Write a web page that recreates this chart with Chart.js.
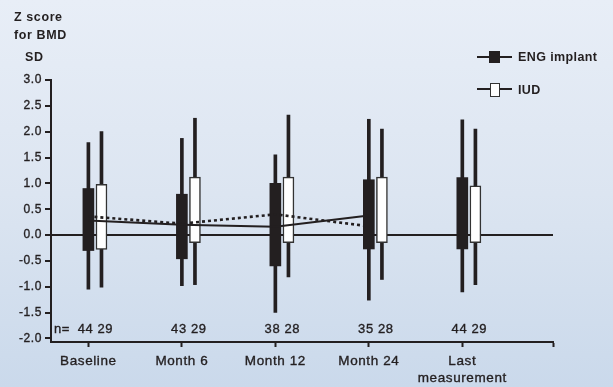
<!DOCTYPE html>
<html>
<head>
<meta charset="utf-8">
<script src="https://cdn.jsdelivr.net/npm/chart.js@4.4.1/dist/chart.umd.min.js"></script>
<style>
  html, body { margin: 0; padding: 0; }
  body {
    width: 613px; height: 387px; overflow: hidden; position: relative;
    background: linear-gradient(180deg, #e8eef7 0%, #dce5f1 50%, #cad9eb 100%);
    font-family: "Liberation Sans", Arial, sans-serif; color: #231f20;
  }
  #wrap { position: absolute; left: 0; top: 0; width: 613px; height: 387px; }
  .t { position: absolute; font-weight: bold; font-size: 12.5px; letter-spacing: 0.6px; line-height: 14px; white-space: nowrap; }
  .leg { position: absolute; }
  .leg .ln { position: absolute; height: 2px; background: #231f20; }
  .leg .bx { position: absolute; box-sizing: border-box; }
</style>
</head>
<body>
<div id="wrap"><canvas id="c" width="613" height="387"></canvas></div>

<div class="t" style="left:14px; top:10px;">Z score</div>
<div class="t" style="left:14px; top:28px;">for BMD</div>
<div class="t" style="left:25px; top:50px;">SD</div>

<div class="leg">
  <div class="ln" style="left:477px; top:56px; width:35px;"></div>
  <div class="bx" style="left:489px; top:51px; width:11px; height:12px; background:#231f20;"></div>
  <div class="t" style="left:518px; top:50px; letter-spacing:0.4px;">ENG implant</div>
  <div class="ln" style="left:477px; top:88px; width:35px;"></div>
  <div class="bx" style="left:490px; top:83px; width:10px; height:14px; background:#fff; border:1.5px solid #333;"></div>
  <div class="t" style="left:518px; top:83px; letter-spacing:0.4px;">IUD</div>
</div>

<script>
// ---- data ----
const CATEGORIES = ['Baseline', 'Month 6', 'Month 12', 'Month 24', ['Last', 'measurement']];
const Y_TICKS = [-2.0, -1.5, -1.0, -0.5, 0.0, 0.5, 1.0, 1.5, 2.0, 2.5, 3.0];

const ENG_MIN  = [-1.05, -0.98, -1.50, -1.26, -1.10];
const ENG_LOW  = [-0.30, -0.46, -0.60, -0.27, -0.27];
const ENG_HIGH = [ 0.90,  0.79,  1.00,  1.07,  1.11];
const ENG_MAX  = [ 1.79,  1.87,  1.55,  2.24,  2.23];
const ENG_MEAN = [ 0.28,  0.20,  0.16,  0.38];

const IUD_MIN  = [-1.01, -0.96, -0.81, -0.86, -0.96];
const IUD_LOW  = [-0.28, -0.15, -0.15, -0.15, -0.15];
const IUD_HIGH = [ 0.98,  1.12,  1.12,  1.12,  0.95];
const IUD_MAX  = [ 2.00,  2.26,  2.32,  2.05,  2.05];
const IUD_MEAN = [ 0.36,  0.22,  0.40,  0.17];

const N_ENG = [44, 43, 38, 35, 44];
const N_IUD = [29, 29, 28, 28, 29];

// ---- layout / style constants ----
const INK = '#231f20';
const IUD_SHIFT = 0.14;      // horizontal offset of the IUD box (category units)
const X_MIN = -0.4, X_MAX = 4.97;
const FONT = '"Liberation Sans", Arial, sans-serif';

const range = (lo, hi, dx) => lo.map((v, i) => ({ x: i + dx, y: [v, hi[i]] }));
const pts = (arr) => arr.map((v, i) => ({ x: i, y: v }));

const spacing = {
  id: 'spacing',
  beforeDraw(chart) { chart.ctx.letterSpacing = '0.6px'; }
};

const nLabels = {
  id: 'nLabels',
  afterDatasetsDraw(chart) {
    const { ctx, scales: { x, y } } = chart;
    ctx.save();
    ctx.letterSpacing = '0.6px';
    ctx.fillStyle = INK;
    ctx.strokeStyle = INK;
    ctx.lineWidth = 0.35;
    ctx.font = '13px ' + FONT;
    ctx.textBaseline = 'middle';
    const yy = y.getPixelForValue(-2.0) - 9;
    ctx.textAlign = 'left';
    ctx.fillText('n=', 54, yy); ctx.strokeText('n=', 54, yy);
    ctx.textAlign = 'center';
    N_ENG.forEach((n, i) => {
      const s = n + ' ' + N_IUD[i];
      const px = x.getPixelForValue(i) + 7;
      ctx.fillText(s, px, yy); ctx.strokeText(s, px, yy);
    });
    ctx.restore();
  }
};

new Chart(document.getElementById('c'), {
  type: 'line',
  data: {
    datasets: [
      { type: 'bar', label: 'ENG range', data: range(ENG_MIN, ENG_MAX, 0), backgroundColor: INK,
        barThickness: 3, grouped: false, order: 4 },
      { type: 'bar', label: 'IUD range', data: range(IUD_MIN, IUD_MAX, IUD_SHIFT), backgroundColor: INK,
        barThickness: 3, grouped: false, order: 4 },
      { type: 'bar', label: 'ENG implant', data: range(ENG_LOW, ENG_HIGH, 0), backgroundColor: INK,
        borderWidth: 0, barThickness: 11, grouped: false, order: 3 },
      { type: 'bar', label: 'IUD', data: range(IUD_LOW, IUD_HIGH, IUD_SHIFT), backgroundColor: '#ffffff',
        borderColor: '#333333', borderWidth: 1.5, borderSkipped: false, barThickness: 11, grouped: false, order: 2 },
      { type: 'line', label: 'ENG mean', data: pts(ENG_MEAN), borderColor: INK, borderWidth: 2,
        pointRadius: 0, tension: 0, fill: false, order: 1 },
      { type: 'line', label: 'IUD mean', data: pts(IUD_MEAN), borderColor: INK, borderWidth: 2.6,
        borderDash: [3, 3], borderCapStyle: 'butt', pointRadius: 0, tension: 0, fill: false, order: 1 }
    ]
  },
  options: {
    responsive: false,
    animation: false,
    events: [],
    layout: { padding: { top: 80, right: 60, left: 0, bottom: 0 } },
    plugins: { legend: { display: false }, tooltip: { enabled: false }, title: { display: false } },
    scales: {
      x: {
        type: 'linear', min: X_MIN, max: X_MAX, offset: false, stacked: false,
        afterFit(s) { s.height = 45; },
        afterBuildTicks(s) { s.ticks = CATEGORIES.map((c, i) => ({ value: i })).concat([{ value: X_MAX }]); },
        border: { display: true, color: INK, width: 2 },
        grid: { display: true, drawOnChartArea: false, drawTicks: true, tickLength: 5, tickColor: INK, tickWidth: 2, offset: false },
        ticks: {
          autoSkip: false, maxRotation: 0, padding: 6, color: INK,
          textStrokeColor: INK, textStrokeWidth: 0.35,
          font: { family: FONT, size: 13.5, lineHeight: 1.25 },
          callback: (v) => (Number.isInteger(v) && CATEGORIES[v] !== undefined) ? CATEGORIES[v] : ''
        }
      },
      y: {
        type: 'linear', min: -2.07, max: 3.0, stacked: false,
        afterFit(s) { s.width = 51; },
        afterBuildTicks(s) { s.ticks = Y_TICKS.map(v => ({ value: v })); },
        border: { display: true, color: INK, width: 2 },
        grid: {
          drawOnChartArea: true, drawTicks: true, tickLength: 6, tickColor: INK, tickWidth: 2,
          color: (c) => (c.tick && c.tick.value === 0) ? INK : 'rgba(0,0,0,0)',
          lineWidth: (c) => (c.tick && c.tick.value === 0) ? 2 : 0
        },
        ticks: {
          padding: 3, color: INK,
          textStrokeColor: INK, textStrokeWidth: 0.35,
          font: { family: FONT, size: 12 },
          callback: (v) => Number(v).toFixed(1)
        }
      }
    }
  },
  plugins: [spacing, nLabels]
});
</script>
</body>
</html>
